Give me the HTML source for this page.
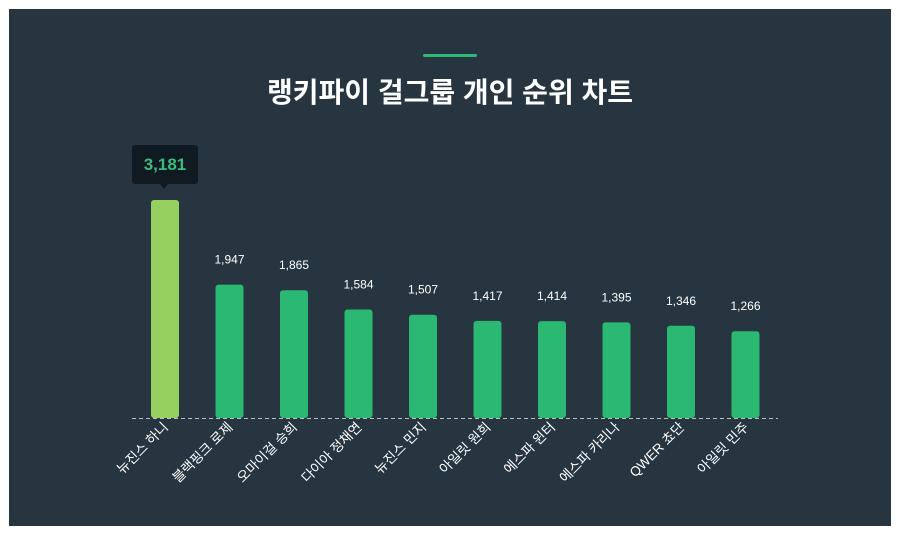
<!DOCTYPE html>
<html><head><meta charset="utf-8"><style>
html,body{margin:0;padding:0;background:#fff;}
svg{display:block;font-family:"Liberation Sans","Noto Sans CJK KR",sans-serif;}
</style></head><body>
<svg width="900" height="540" viewBox="0 0 900 540">
<rect x="0" y="0" width="900" height="540" fill="#fff"/>
<rect x="9" y="9" width="882" height="517" fill="#263540"/>
<rect x="423" y="54" width="54" height="3" rx="1.5" fill="#2dba74"/>
<text x="450" y="102" text-anchor="middle" fill="#fff" font-size="28" font-weight="bold">랭키파이 걸그룹 개인 순위 차트</text>
<g id="bars"></g>
<line x1="132" y1="418.5" x2="778" y2="418.5" stroke="#b8c0c6" stroke-width="1" stroke-dasharray="4,3"/>
<rect x="132" y="145" width="66" height="39" rx="3" fill="#0f1a22"/>
<polygon points="160,184 168,184 164,189" fill="#0f1a22"/>
<text x="165" y="170" text-anchor="middle" fill="#3dbb7a" font-size="17" font-weight="bold">3,181</text>
</svg>
<script>
var d=[["뉴진스 하니",3181],["블랙핑크 로제",1947],["오마이걸 승희",1865],["다이아 정채연",1584],["뉴진스 민지",1507],["아일릿 원희",1417],["에스파 윈터",1414],["에스파 카리나",1395],["QWER 쵸단",1346],["아일릿 민주",1266]];
var g=document.getElementById('bars'),s='';
d.forEach(function(e,i){
 var cx=165+i*64.5,h=e[1]*218/3181,top=418-h;
 s+='<rect x="'+(cx-14)+'" y="'+top+'" width="28" height="'+h+'" rx="3" fill="'+(i==0?'#96d05e':'#2bb873')+'"/>';
 if(i>0)s+='<text x="'+cx+'" y="'+(top-21)+'" text-anchor="middle" fill="#fff" font-size="12">'+e[1].toLocaleString('en-US')+'</text>';
 s+='<text transform="translate('+(cx+4)+',428) rotate(-45)" text-anchor="end" fill="#fff" font-size="13.5">'+e[0]+'</text>';
});
g.innerHTML=s;
</script>
</body></html>
